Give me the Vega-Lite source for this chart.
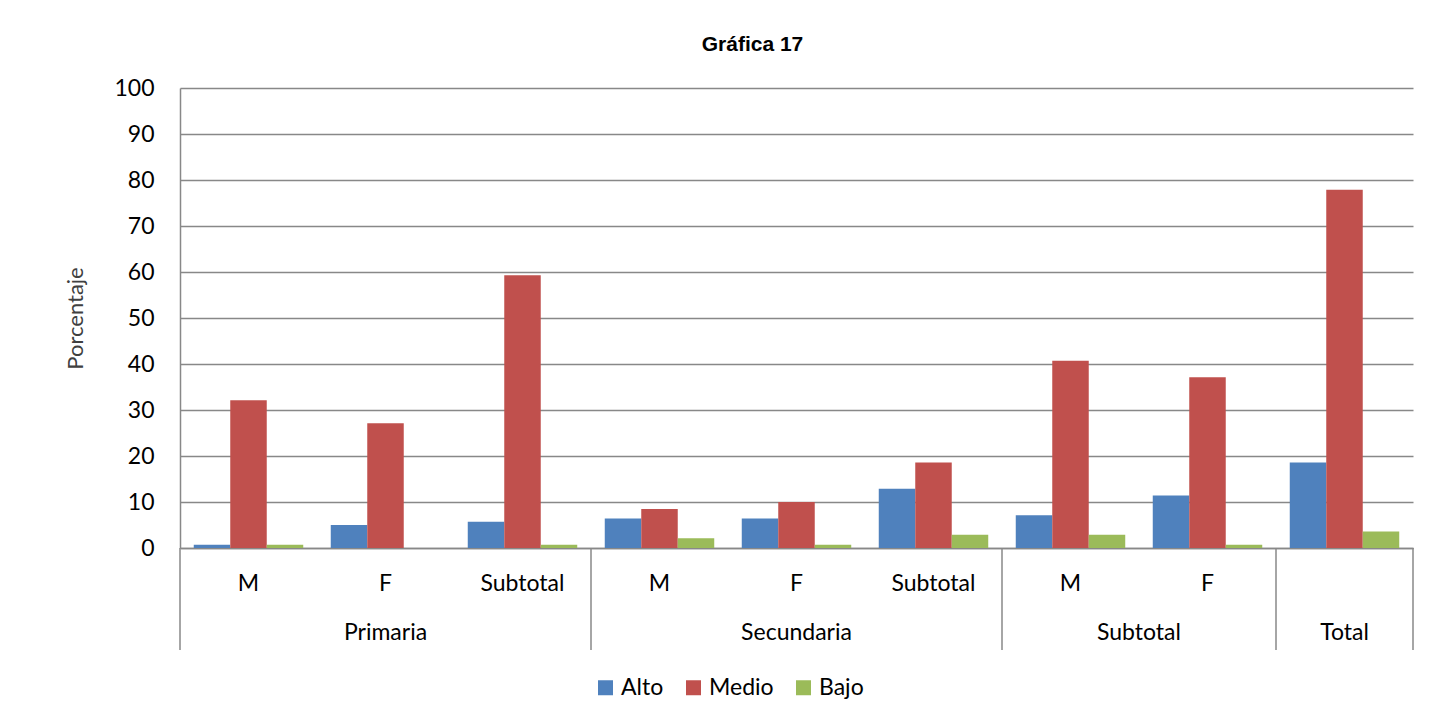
{
  "$schema": "https://vega.github.io/schema/vega-lite/v6.json",
  "width": 1233,
  "height": 460,
  "padding": {"left": 64, "top": 34, "right": 19, "bottom": 10},
  "background": "white",
  "title": {"text": "Gráfica 17", "font": "Liberation Sans", "fontSize": 21, "fontWeight": "bold", "color": "#000000", "anchor": "middle", "dx": -44, "offset": 22},
  "config": {
    "view": {"stroke": null},
    "font": "Lato"
  },
  "datasets": {
    "bars": [
      {"cat": "Primaria|M", "serie": "Alto", "valor": 0.7},
      {"cat": "Primaria|M", "serie": "Medio", "valor": 32.1},
      {"cat": "Primaria|M", "serie": "Bajo", "valor": 0.7},
      {"cat": "Primaria|F", "serie": "Alto", "valor": 5.0},
      {"cat": "Primaria|F", "serie": "Medio", "valor": 27.1},
      {"cat": "Primaria|F", "serie": "Bajo", "valor": 0},
      {"cat": "Primaria|Subtotal", "serie": "Alto", "valor": 5.7},
      {"cat": "Primaria|Subtotal", "serie": "Medio", "valor": 59.3},
      {"cat": "Primaria|Subtotal", "serie": "Bajo", "valor": 0.7},
      {"cat": "Secundaria|M", "serie": "Alto", "valor": 6.4},
      {"cat": "Secundaria|M", "serie": "Medio", "valor": 8.5},
      {"cat": "Secundaria|M", "serie": "Bajo", "valor": 2.1},
      {"cat": "Secundaria|F", "serie": "Alto", "valor": 6.4},
      {"cat": "Secundaria|F", "serie": "Medio", "valor": 10.0},
      {"cat": "Secundaria|F", "serie": "Bajo", "valor": 0.7},
      {"cat": "Secundaria|Subtotal", "serie": "Alto", "valor": 12.9},
      {"cat": "Secundaria|Subtotal", "serie": "Medio", "valor": 18.6},
      {"cat": "Secundaria|Subtotal", "serie": "Bajo", "valor": 2.9},
      {"cat": "Subtotal|M", "serie": "Alto", "valor": 7.1},
      {"cat": "Subtotal|M", "serie": "Medio", "valor": 40.7},
      {"cat": "Subtotal|M", "serie": "Bajo", "valor": 2.9},
      {"cat": "Subtotal|F", "serie": "Alto", "valor": 11.4},
      {"cat": "Subtotal|F", "serie": "Medio", "valor": 37.1},
      {"cat": "Subtotal|F", "serie": "Bajo", "valor": 0.7},
      {"cat": "Total|", "serie": "Alto", "valor": 18.6},
      {"cat": "Total|", "serie": "Medio", "valor": 77.9},
      {"cat": "Total|", "serie": "Bajo", "valor": 3.6}
    ],
    "separadoresIzq": [
      {"cat": "Primaria|M"},
      {"cat": "Secundaria|M"},
      {"cat": "Subtotal|M"},
      {"cat": "Total|"}
    ],
    "separadoresDer": [
      {"cat": "Total|"}
    ],
    "gruposCentro": [
      {"cat": "Primaria|F", "grupo": "Primaria"},
      {"cat": "Secundaria|F", "grupo": "Secundaria"},
      {"cat": "Total|", "grupo": "Total"}
    ],
    "gruposBorde": [
      {"cat": "Subtotal|M", "grupo": "Subtotal"}
    ]
  },
  "layer": [
    {
      "data": {"name": "bars"},
      "mark": {"type": "bar"},
      "encoding": {
        "x": {
          "field": "cat", "type": "nominal",
          "scale": {"domain": ["Primaria|M", "Primaria|F", "Primaria|Subtotal", "Secundaria|M", "Secundaria|F", "Secundaria|Subtotal", "Subtotal|M", "Subtotal|F", "Total|"], "paddingInner": 0, "paddingOuter": 0},
          "axis": {
            "title": null, "ticks": false, "domain": true, "domainColor": "#888888", "domainWidth": 1.5,
            "labelAngle": 0, "labelExpr": "split(datum.label, '|')[1]",
            "labelFontSize": 23, "labelColor": "#000000", "labelBaseline": "middle", "labelPadding": 35, "labelFont": "Lato"
          }
        },
        "xOffset": {
          "field": "serie", "type": "nominal",
          "scale": {"domain": ["Alto", "Medio", "Bajo"], "paddingInner": 0, "paddingOuter": 0.377}
        },
        "y": {
          "field": "valor", "type": "quantitative",
          "scale": {"domain": [0, 100], "nice": false},
          "axis": {
            "title": "Porcentaje", "titleFontSize": 22, "titleFontWeight": "normal", "titleColor": "#404040", "titleFont": "Lato", "titlePadding": 26,
            "values": [0, 10, 20, 30, 40, 50, 60, 70, 80, 90, 100],
            "ticks": false, "domain": true, "domainColor": "#888888", "domainWidth": 1.5,
            "grid": true, "gridColor": "#888888", "gridWidth": 1.5,
            "labelFontSize": 23, "labelColor": "#000000", "labelPadding": 26, "labelFont": "Lato"
          }
        },
        "color": {
          "field": "serie", "type": "nominal",
          "scale": {"domain": ["Alto", "Medio", "Bajo"], "range": ["#4F81BD", "#C0504D", "#9BBB59"]},
          "legend": {
            "title": null, "orient": "none", "legendX": 414, "legendY": 588, "direction": "horizontal", "symbolType": "square", "symbolSize": 225,
            "symbolStrokeWidth": 0, "labelFontSize": 23, "labelColor": "#000000", "labelFont": "Lato", "columnPadding": 18
          }
        }
      }
    },
    {
      "data": {"name": "separadoresIzq"},
      "mark": {"type": "rule", "color": "#888888", "strokeWidth": 1.5},
      "encoding": {
        "x": {"field": "cat", "type": "nominal", "bandPosition": 0},
        "y": {"datum": 0},
        "y2": {"datum": -22.2}
      }
    },
    {
      "data": {"name": "separadoresDer"},
      "mark": {"type": "rule", "color": "#888888", "strokeWidth": 1.5},
      "encoding": {
        "x": {"field": "cat", "type": "nominal", "bandPosition": 1},
        "y": {"datum": 0},
        "y2": {"datum": -22.2}
      }
    },
    {
      "data": {"name": "gruposCentro"},
      "mark": {"type": "text", "fontSize": 23, "font": "Lato", "color": "#000000", "baseline": "middle"},
      "encoding": {
        "x": {"field": "cat", "type": "nominal", "bandPosition": 0.5},
        "y": {"datum": -18.5},
        "text": {"field": "grupo"}
      }
    },
    {
      "data": {"name": "gruposBorde"},
      "mark": {"type": "text", "fontSize": 23, "font": "Lato", "color": "#000000", "baseline": "middle"},
      "encoding": {
        "x": {"field": "cat", "type": "nominal", "bandPosition": 1},
        "y": {"datum": -18.5},
        "text": {"field": "grupo"}
      }
    }
  ]
}
